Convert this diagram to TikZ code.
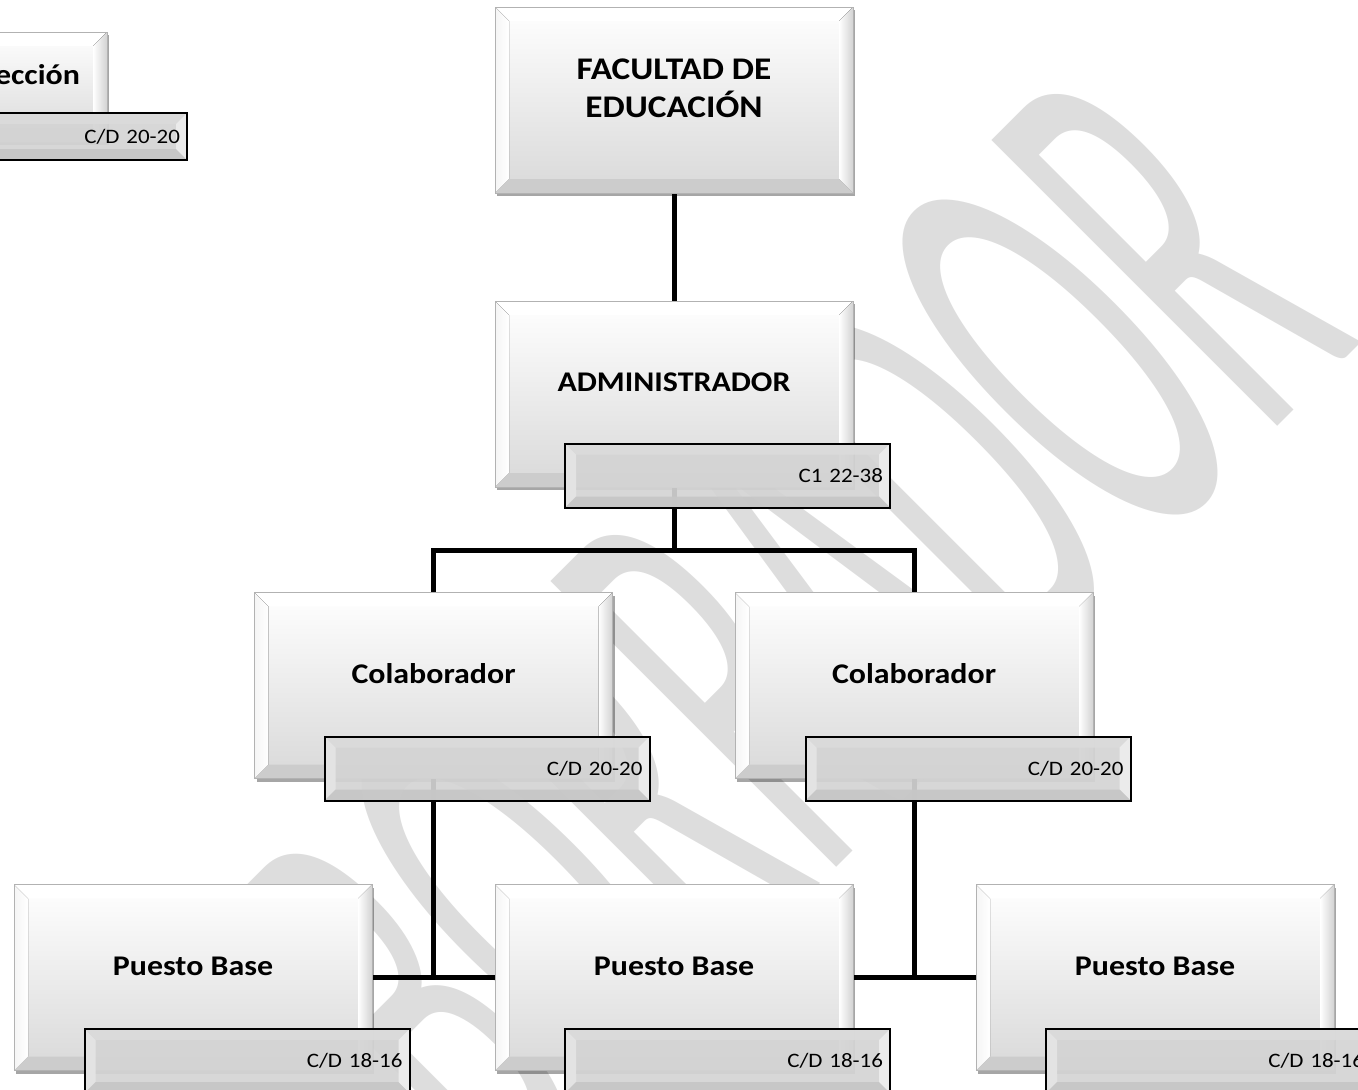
\documentclass[tikz,border=0pt]{standalone}
\usepackage{fontspec}
\setmainfont{Carlito}[FakeStretch=1.12]
\newfontfamily\markfont{Carlito}
\usetikzlibrary{shadows,backgrounds}
\newcommand{\linkwidth}{5pt}
\newcommand{\markcolor}{gray!27}
% bevel: #1 size, #2 top, #3 left, #4 right, #5 bottom
\newcommand{\boxbevel}[5]{%
  \coordinate (bl) at (path picture bounding box.south west);
  \coordinate (tr) at (path picture bounding box.north east);
  \coordinate (br) at (bl -| tr);
  \coordinate (tl) at (tr -| bl);
  \fill[#2] (tl) -- (tr) -- ([xshift=-#1,yshift=-#1]tr) -- ([xshift=#1,yshift=-#1]tl) -- cycle;
  \fill[#3] (tl) -- ([xshift=#1,yshift=-#1]tl) -- ([xshift=#1,yshift=#1]bl) -- (bl) -- cycle;
  \fill[#4] (tr) -- (br) -- ([xshift=-#1,yshift=#1]br) -- ([xshift=-#1,yshift=-#1]tr) -- cycle;
  \fill[#5] (bl) -- ([xshift=#1,yshift=#1]bl) -- ([xshift=-#1,yshift=#1]br) -- (br) -- cycle;
}
\tikzset{
  mainbox/.style={draw=gray!60, line width=0.8pt, top color=white, bottom color=gray!30,
    minimum width=358pt, minimum height=186pt, inner sep=0pt, align=center,
    font=\fontsize{28.5}{37}\selectfont\bfseries, text height=20pt, text depth=25pt,
    drop shadow={shadow xshift=2pt, shadow yshift=-3pt, fill=black, opacity=0.35},
    path picture={\boxbevel{14pt}{white}{left color=gray!8,right color=white}{left color=white,right color=gray!35}{gray!40}}},
  codebox/.style={draw=black, line width=2pt, fill=gray!34, fill opacity=0.92, text opacity=1,
    minimum height=64pt, text width=311pt, inner sep=7pt, align=right,
    font=\fontsize{20.5}{25}\selectfont,
    path picture={\boxbevel{11pt}{gray!28}{gray!20}{gray!14}{gray!44}}},
  link/.style={line width=\linkwidth, black}
}
\begin{document}
\begin{tikzpicture}[x=1pt, y=-1pt]
\useasboundingbox (0,0) rectangle (1358,1090);
\node[mainbox] (fac) at (674, 100) [font=\fontsize{31.5}{38}\selectfont\bfseries, text height=58pt, text depth=24pt] {FACULTAD DE\\EDUCACIÓN};
\node[mainbox] (adm) at (674, 394) {ADMINISTRADOR};
\node[codebox] (admcode) at (727.5, 475.5) {C1 22-38};
\node[mainbox] (colA) at (433.5, 685.5) {Colaborador};
\node[codebox] (colAcode) at (487, 768.5) {C/D 20-20};
\node[mainbox] (colB) at (914, 685.5) {Colaborador};
\node[codebox] (colBcode) at (968, 768.5) {C/D 20-20};
\node[mainbox] (baseA) at (193, 977.5) {Puesto Base};
\node[codebox] (baseAcode) at (247, 1061) {C/D 18-16};
\node[mainbox] (baseB) at (674, 977.5) {Puesto Base};
\node[codebox] (baseBcode) at (727.5, 1061) {C/D 18-16};
\node[mainbox] (baseC) at (1155, 977.5) {Puesto Base};
\node[codebox] (baseCcode) at (1208.5, 1061) {C/D 18-16};
\node[mainbox] (dir) at (18, 87) [minimum width=178pt, minimum height=110pt] {Dirección};
\node[codebox] (dircode) at (42, 136.5) [text width=276pt, minimum height=47pt] {C/D 20-20};
\begin{scope}[on background layer]
\node[text=\markcolor, rotate=45, inner sep=0pt] (mark) at (790, 628)
  {\markfont\fontsize{100}{100}\selectfont\scalebox{2.6}[6.3]{BORRADOR}};
\coordinate (fork) at (674, 550);
\draw[link] (fac.south) -- (adm.north);
\draw[link] (adm.south) -- (fork);
\draw[link] (fork) -| (colA.north);
\draw[link] (fork) -| (colB.north);
\draw[link] (colA.south) -- (colA.south |- baseA.east);
\draw[link] (baseA.east) -- (baseB.west);
\draw[link] (colB.south) -- (colB.south |- baseB.east);
\draw[link] (baseB.east) -- (baseC.west);
\end{scope}
\end{tikzpicture}
\end{document}
